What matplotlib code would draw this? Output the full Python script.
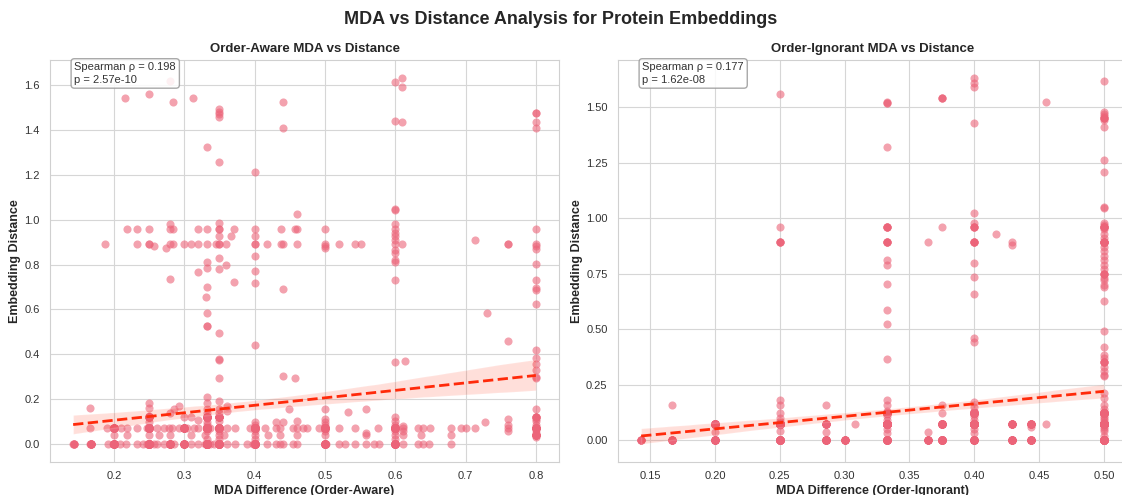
import numpy as np
import matplotlib
matplotlib.use("Agg")
import matplotlib.pyplot as plt
import seaborn as sns

# ---- Order-aware panel: individually visible points ----
aware_high_x = [0.187, 0.216, 0.219, 0.233, 0.233, 0.25, 0.25, 0.25, 0.25, 0.257, 0.274,
                0.28, 0.28, 0.28, 0.28, 0.28, 0.284, 0.284, 0.284, 0.299, 0.309, 0.313,
                0.32, 0.32, 0.32, 0.331,
                0.333, 0.333, 0.333, 0.333, 0.333, 0.333, 0.333, 0.333, 0.333, 0.345,
                0.35, 0.35, 0.35, 0.35, 0.35, 0.35, 0.35, 0.35, 0.35, 0.35, 0.35, 0.35, 0.35,
                0.35, 0.35, 0.35, 0.35, 0.36, 0.36, 0.366, 0.371, 0.371,
                0.4, 0.4, 0.4, 0.4, 0.4, 0.4, 0.4, 0.4, 0.4, 0.417, 0.437, 0.437,
                0.44, 0.44, 0.44, 0.44, 0.44, 0.457, 0.457, 0.46, 0.46, 0.46,
                0.5, 0.5, 0.5, 0.5, 0.52, 0.543, 0.551,
                0.6, 0.6, 0.6, 0.6, 0.6, 0.6, 0.6, 0.6, 0.6, 0.6, 0.6, 0.6, 0.6, 0.6, 0.6, 0.6,
                0.61, 0.61, 0.61, 0.61, 0.614, 0.714, 0.73, 0.76, 0.76, 0.76,
                0.8, 0.8, 0.8, 0.8, 0.8, 0.8, 0.8, 0.8, 0.8, 0.8, 0.8, 0.8, 0.8, 0.8, 0.8, 0.8,
                0.8, 0.8, 0.8]
aware_high_y = [0.893, 1.543, 0.961, 0.961, 0.893, 1.561, 0.961, 0.893, 0.893, 0.883, 0.873,
                1.62, 0.982, 0.961, 0.893, 0.735, 1.524, 0.961, 0.893, 0.893, 0.893, 1.543,
                0.961, 0.893, 0.765, 0.655,
                1.323, 0.961, 0.893, 0.81, 0.784, 0.701, 0.585, 0.524, 0.524, 0.893,
                1.495, 1.483, 1.473, 1.461, 1.26, 0.988, 0.961, 0.961, 0.929, 0.893, 0.893, 0.829, 0.78,
                0.493, 0.38, 0.372, 0.292, 0.893, 0.8, 0.929, 0.961, 0.722,
                1.213, 0.961, 0.929, 0.893, 0.893, 0.839, 0.772, 0.717, 0.44, 0.893, 0.961, 0.893,
                1.525, 1.412, 0.893, 0.69, 0.304, 0.961, 0.295, 1.024, 0.961, 0.893,
                0.961, 0.893, 0.883, 0.873, 0.893, 0.893, 0.893,
                1.615, 1.442, 1.049, 1.045, 0.982, 0.961, 0.94, 0.926, 0.91, 0.893, 0.863, 0.851, 0.82,
                0.81, 0.732, 0.363,
                1.632, 1.594, 1.436, 0.893, 0.368, 0.911, 0.586, 0.893, 0.893, 0.458,
                1.479, 1.476, 1.439, 1.412, 0.961, 0.893, 0.881, 0.869, 0.804, 0.729, 0.695, 0.688,
                0.625, 0.42, 0.382, 0.357, 0.33, 0.3, 0.292]

aware_low_x = [0.166, 0.25, 0.25, 0.25, 0.25, 0.28, 0.285, 0.292, 0.3, 0.309, 0.32,
               0.333, 0.333, 0.333, 0.333, 0.333, 0.333, 0.333, 0.333, 0.333,
               0.35, 0.35, 0.35, 0.35, 0.35, 0.35, 0.361, 0.361,
               0.4, 0.4, 0.4, 0.4, 0.431, 0.44, 0.449, 0.46,
               0.5, 0.5, 0.5, 0.5, 0.5, 0.533, 0.559, 0.559,
               0.6, 0.6, 0.6, 0.6, 0.6, 0.611, 0.611, 0.727, 0.76, 0.76, 0.76,
               0.8, 0.8, 0.8, 0.8, 0.8, 0.8, 0.8]
aware_low_y = [0.158, 0.18, 0.16, 0.124, 0.098, 0.136, 0.156, 0.17, 0.12, 0.12, 0.106,
               0.21, 0.18, 0.155, 0.135, 0.115, 0.098, 0.085, 0.055, 0.02,
               0.19, 0.155, 0.135, 0.1, 0.055, 0.02, 0.17, 0.144,
               0.098, 0.085, 0.055, 0.02, 0.098, 0.098, 0.156, 0.1,
               0.153, 0.11, 0.098, 0.085, 0.055, 0.142, 0.153, 0.049,
               0.12, 0.1, 0.085, 0.055, 0.02, 0.08, 0.055, 0.099, 0.11, 0.085, 0.055,
               0.153, 0.11, 0.1, 0.085, 0.06, 0.05, 0.03]

# rows of points sitting on y = 0, y ~ 0.071 and y ~ 0.038
aware_row0_x = [0.142, 0.166, 0.191, 0.199, 0.209, 0.217, 0.233, 0.242, 0.247, 0.252, 0.257,
                0.261, 0.271, 0.28, 0.285, 0.299, 0.309, 0.32, 0.33, 0.337, 0.342, 0.349,
                0.361, 0.372, 0.389, 0.398, 0.417, 0.431, 0.436, 0.441, 0.455, 0.46, 0.5,
                0.502, 0.52, 0.529, 0.543, 0.559, 0.57, 0.577, 0.6, 0.611, 0.632, 0.639,
                0.648, 0.68]
aware_row07_x = [0.166, 0.19, 0.199, 0.21, 0.219, 0.233, 0.247, 0.25, 0.261, 0.271, 0.279,
                 0.282, 0.292, 0.299, 0.304, 0.314, 0.32, 0.332, 0.337, 0.349, 0.361, 0.372,
                 0.393, 0.4, 0.415, 0.431, 0.436, 0.455, 0.46, 0.469, 0.475, 0.491, 0.5,
                 0.52, 0.543, 0.575, 0.6, 0.611, 0.632, 0.639, 0.649, 0.68, 0.693, 0.7,
                 0.714, 0.76, 0.8]
aware_row04_x = [0.2, 0.219, 0.25, 0.264, 0.28, 0.309, 0.33, 0.349, 0.356, 0.4, 0.419,
                 0.436, 0.46, 0.5, 0.559, 0.6, 0.611, 0.636, 0.68, 0.8]

# overlapping points stacked on the same spot (estimated counts)
aware_stack_x = [0.143, 0.167, 0.2, 0.2, 0.25, 0.25, 0.25, 0.28, 0.3, 0.3, 0.333, 0.333,
                 0.333, 0.35, 0.35, 0.35, 0.4, 0.4, 0.5, 0.5, 0.6, 0.6, 0.8, 0.8, 0.8]
aware_stack_y = [0, 0, 0, 0.071, 0, 0.071, 0.12, 0, 0, 0.071, 0, 0.071,
                 0.12, 0, 0.071, 0.12, 0, 0.071, 0, 0.071, 0, 0.071, 0.071, 0.04, 0.12]
aware_stack_n = [4, 9, 21, 13, 39, 31, 8, 18, 16, 14, 54, 51,
                 20, 41, 33, 10, 32, 32, 24, 24, 29, 29, 14, 9, 5]

# ---- Order-ignorant panel ----
ign_high_x = [0.25, 0.25, 0.25,
              0.333, 0.333, 0.333, 0.333, 0.333, 0.333, 0.333, 0.333, 0.333, 0.333,
              0.364, 0.375, 0.375,
              0.4, 0.4, 0.4, 0.4, 0.4, 0.4, 0.4, 0.4, 0.4, 0.4, 0.4, 0.4, 0.4,
              0.417, 0.429, 0.429, 0.455]
ign_high_y = [1.56, 0.96, 0.893,
              1.522, 1.32, 0.96, 0.893, 0.81, 0.787, 0.703, 0.587, 0.524, 0.366,
              0.893, 1.543, 0.96,
              1.63, 1.61, 1.59, 1.43, 1.025, 0.98, 0.96, 0.893, 0.8, 0.735, 0.657, 0.458, 0.44,
              0.93, 0.893, 0.88, 1.525]
# the dense column at MDA = 0.5
ign_col50_y = [1.62, 1.48, 1.47, 1.46, 1.44, 1.41, 1.26, 1.21, 1.05, 1.045, 0.98, 0.97,
               0.95, 0.93, 0.91, 0.89, 0.87, 0.85, 0.83, 0.81, 0.79, 0.77, 0.73, 0.72, 0.70,
               0.69, 0.625, 0.49, 0.42, 0.385, 0.37, 0.35, 0.33, 0.31, 0.295, 0.29,
               0.21, 0.19, 0.16, 0.14, 0.11, 0.1, 0.09, 0.08, 0.07, 0.06, 0.05, 0.04, 0.02, 0]
ign_low_x = [0.143, 0.167, 0.167, 0.2, 0.2, 0.2, 0.2,
             0.25, 0.25, 0.25, 0.25, 0.25, 0.25, 0.25, 0.25,
             0.286, 0.286, 0.286, 0.286, 0.3, 0.308,
             0.333, 0.333, 0.333, 0.333, 0.333, 0.333, 0.333, 0.333, 0.333,
             0.364, 0.364, 0.375, 0.375, 0.375, 0.375,
             0.4, 0.4, 0.4, 0.4, 0.4, 0.4, 0.4, 0.4, 0.4,
             0.429, 0.429, 0.444, 0.444, 0.444, 0.455]
ign_low_y = [0, 0, 0.157, 0, 0.038, 0.068, 0.074,
             0.18, 0.157, 0.12, 0.1, 0.085, 0.07, 0.04, 0,
             0.157, 0.074, 0.038, 0, 0, 0.074,
             0.18, 0.157, 0.13, 0.11, 0.09, 0.07, 0.05, 0.03, 0,
             0.038, 0, 0.157, 0.12, 0.074, 0,
             0.17, 0.15, 0.13, 0.11, 0.09, 0.07, 0.05, 0.03, 0,
             0.074, 0, 0.074, 0.06, 0, 0.074]

ign_stack_x = [0.5, 0.5, 0.5, 0.333, 0.333, 0.4, 0.4, 0.25, 0.333, 0.375, 0.5, 0.5,
               0.143, 0.167, 0.2, 0.2, 0.25, 0.25, 0.286, 0.286, 0.3, 0.333, 0.333, 0.333,
               0.364, 0.375, 0.375, 0.4, 0.4, 0.4, 0.429, 0.429, 0.444, 0.444, 0.5, 0.5, 0.5]
ign_stack_y = [0.893, 0.96, 1.45, 0.96, 0.893, 0.893, 0.96, 0.893, 1.52, 1.543, 0.75, 0.35,
               0, 0, 0, 0.071, 0, 0.071, 0, 0.071, 0, 0, 0.071, 0.12,
               0, 0, 0.071, 0, 0.071, 0.12, 0, 0.071, 0, 0.071, 0, 0.071, 0.12]
ign_stack_n = [8, 6, 4, 4, 4, 4, 3, 3, 2, 2, 4, 3,
               5, 10, 15, 25, 40, 60, 20, 10, 10, 30, 120, 30,
               10, 30, 20, 20, 110, 30, 15, 10, 15, 10, 55, 130, 40]

aware_rho, aware_p = "0.198", "2.57e-10"
ign_rho, ign_p = "0.177", "1.62e-08"


def build(xs, ys, sx, sy, sn):
    x = np.concatenate([np.asarray(xs, float), np.repeat(sx, sn)])
    y = np.concatenate([np.asarray(ys, float), np.repeat(sy, sn)])
    return x, y


sns.set_style("whitegrid")
plt.rcParams["font.family"] = ["Liberation Sans", "DejaVu Sans"]
plt.rcParams["axes.edgecolor"] = "#d0d0d0"
plt.rcParams["grid.color"] = "#d6d6d6"

ax_x = aware_high_x + aware_low_x + aware_row0_x + aware_row07_x + aware_row04_x
ax_y = (aware_high_y + aware_low_y + [0.0] * len(aware_row0_x)
        + [0.071] * len(aware_row07_x) + [0.038] * len(aware_row04_x))
a_x, a_y = build(ax_x, ax_y, aware_stack_x, aware_stack_y, aware_stack_n)

ix = ign_high_x + [0.5] * len(ign_col50_y) + ign_low_x
iy = ign_high_y + ign_col50_y + ign_low_y
i_x, i_y = build(ix, iy, ign_stack_x, ign_stack_y, ign_stack_n)

fig = plt.figure(figsize=(11.22, 4.95), dpi=100)
ax1 = fig.add_axes([50 / 1122, 0.0667, 509 / 1122, 0.812])
ax2 = fig.add_axes([618 / 1122, 0.0667, 509 / 1122, 0.812])

point_color = "#ec6479"
panels = [
    (ax1, a_x, a_y, "Order-Aware MDA vs Distance", "MDA Difference (Order-Aware)", aware_rho, aware_p),
    (ax2, i_x, i_y, "Order-Ignorant MDA vs Distance", "MDA Difference (Order-Ignorant)", ign_rho, ign_p),
]
for ax, x, y, title, xlabel, rho, p in panels:
    sns.regplot(x=x, y=y, ax=ax, seed=0,
                scatter_kws={"alpha": 0.6, "s": 34, "color": point_color, "linewidths": 0},
                line_kws={"color": "#ff2a0a", "linestyle": "--", "linewidth": 2})
    ax.set_title(title, fontsize=9.5, fontweight="bold", pad=6)
    ax.set_xlabel(xlabel, fontsize=9, fontweight="bold", labelpad=3)
    ax.set_ylabel("Embedding Distance", fontsize=9, fontweight="bold", labelpad=2)
    ax.tick_params(axis="x", labelsize=8, colors="#333333", pad=3)
    ax.tick_params(axis="y", labelsize=8, colors="#333333", pad=4)
    ax.text(0.048, 0.995, f"Spearman \u03c1 = {rho}\np = {p}", transform=ax.transAxes,
            fontsize=8, va="top", ha="left", color="#333333", linespacing=1.35,
            bbox=dict(boxstyle="round,pad=0.3", facecolor="white", edgecolor="#999999", alpha=0.85))

fig.suptitle("MDA vs Distance Analysis for Protein Embeddings", fontsize=13,
             fontweight="bold", y=0.977)
fig.savefig("out.png", dpi=100)
